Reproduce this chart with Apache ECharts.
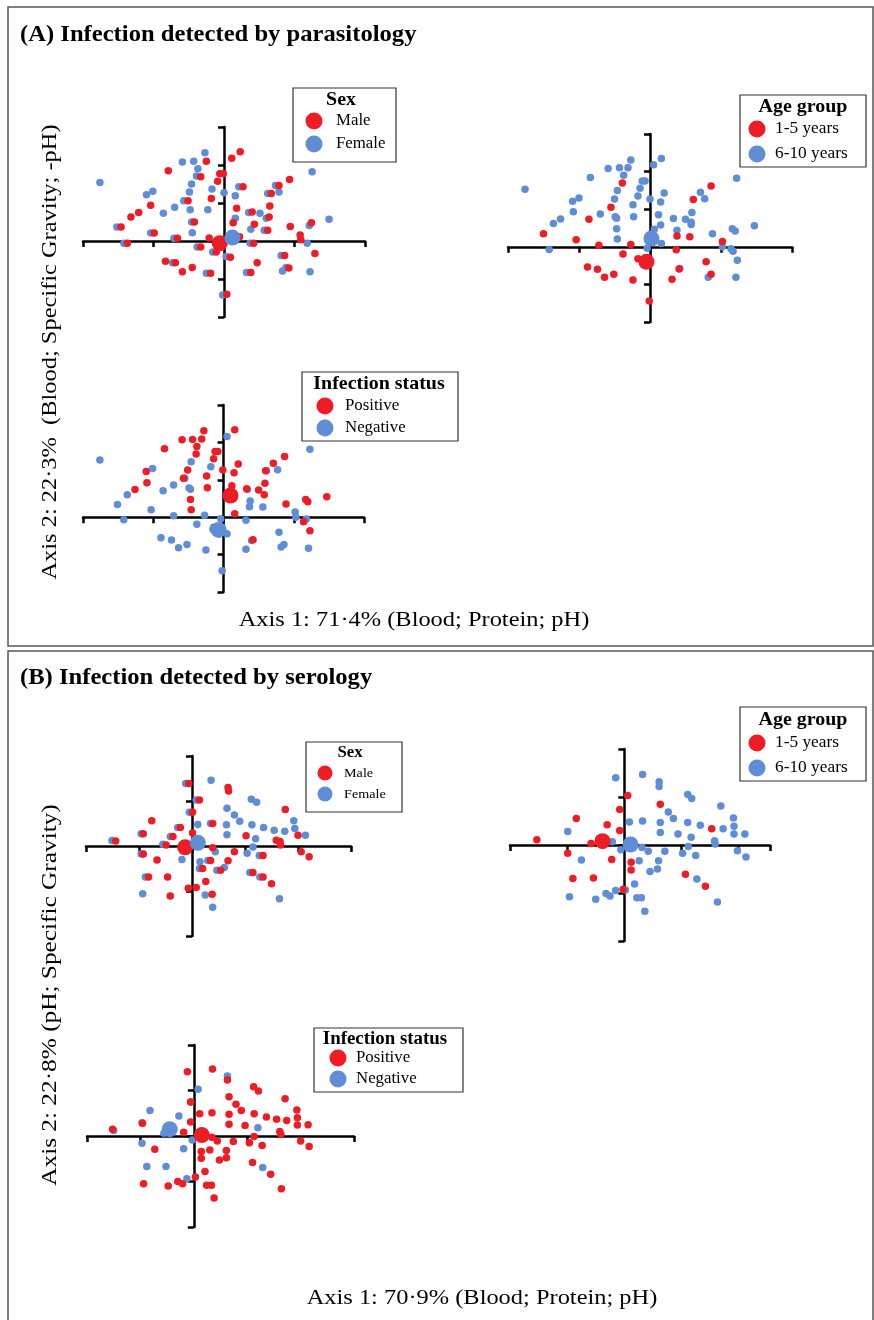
<!DOCTYPE html>
<html><head><meta charset="utf-8">
<script src="https://cdn.jsdelivr.net/npm/echarts@6/dist/echarts.min.js"></script>
<style>html,body{margin:0;padding:0;background:#fff}#c{width:874px;height:1320px}</style>
</head><body><div id="c"></div>
<script>
// ===== Data (PCA scores, axis units) =====
// (A) parasitology
const sexA_male=[[-1.46,0.37],[-1.37,-0.06],[-1.32,0.63],[-1.21,0.75],[-1.04,0.94],[-0.99,0.21],[-0.79,1.85],[-0.83,-0.53],[-0.69,-0.57],[-0.66,0.07],[-0.59,-0.81],[-0.51,1.06],[-0.45,-0.70],[-0.42,0.50],[-0.33,1.69],[-0.33,-0.16],[-0.25,2.10],[-0.19,-0.85],[-0.18,1.12],[-0.21,0.08],[-0.11,-0.29],[-0.09,1.57],[-0.06,1.77],[-0.01,1.77],[0.11,2.18],[0.23,2.35],[0.27,1.43],[0.13,0.48],[0.18,0.86],[0.09,-0.43],[0.04,-1.40],[0.22,0.11],[0.40,0.76],[0.43,0.44],[0.42,-0.06],[0.38,-0.83],[0.47,-0.57],[0.64,0.63],[0.62,0.28],[0.67,1.25],[0.65,0.92],[0.78,1.46],[0.86,-0.38],[0.92,-0.71],[0.93,1.62],[0.94,0.38],[1.08,0.16],[1.09,0.03],[1.24,0.48],[1.29,-0.33]];
const sexA_female=[[-1.76,1.54],[-1.52,0.37],[-1.42,-0.06],[-1.10,1.22],[-1.01,1.31],[-1.04,0.21],[-0.86,0.73],[-0.73,-0.57],[-0.70,0.89],[-0.71,0.07],[-0.59,2.08],[-0.57,1.06],[-0.49,1.29],[-0.48,0.82],[-0.46,1.50],[-0.46,0.50],[-0.45,0.22],[-0.43,2.10],[-0.39,1.71],[-0.37,1.90],[-0.38,-0.16],[-0.27,2.32],[-0.25,-0.85],[-0.23,0.82],[-0.17,1.37],[-0.16,-0.29],[0.00,1.27],[0.16,1.19],[0.21,1.43],[0.16,0.60],[0.03,-0.41],[-0.02,-1.42],[0.35,0.75],[0.38,0.31],[0.37,-0.06],[0.32,-0.83],[0.51,0.73],[0.60,0.60],[0.57,0.28],[0.62,1.25],[0.73,1.46],[0.78,1.29],[0.81,-0.38],[0.83,-0.79],[0.88,-0.70],[1.18,-0.06],[1.21,0.41],[1.22,-0.81],[1.25,1.82],[1.49,0.57]];
const sexA_centroid_male=[[-0.06,-0.06]];
const sexA_centroid_female=[[0.12,0.09]];

const ageA_1to5=[[-1.50,0.35],[-1.04,0.19],[-0.86,0.73],[-0.72,0.04],[-0.55,1.05],[-0.39,1.70],[-0.38,-0.19],[-0.27,0.06],[-0.17,-0.32],[-0.24,-0.88],[-0.88,-0.54],[-0.74,-0.60],[-0.64,-0.81],[-0.51,-0.73],[-0.01,-1.44],[0.31,-0.86],[0.37,-0.08],[0.38,0.29],[0.41,-0.59],[0.56,0.27],[0.61,1.26],[0.86,1.62],[0.79,-0.40],[0.86,-0.73],[1.02,0.14]];
const ageA_6to10=[[-1.76,1.53],[-1.42,-0.07],[-1.36,0.62],[-1.26,0.74],[-1.09,1.21],[-1.00,1.30],[-1.08,0.93],[-0.84,1.84],[-0.70,0.87],[-0.59,2.08],[-0.43,2.10],[-0.31,2.10],[-0.37,1.90],[-0.27,2.31],[-0.46,1.50],[-0.50,1.27],[-0.49,0.80],[-0.47,0.76],[-0.47,0.48],[-0.46,0.21],[-0.24,1.12],[-0.23,0.80],[-0.17,1.35],[-0.14,1.56],[-0.11,1.75],[-0.07,1.75],[0.00,1.27],[0.05,2.18],[0.16,2.35],[0.15,1.19],[0.20,1.43],[0.12,0.85],[0.15,0.58],[0.06,0.47],[-0.04,-0.04],[0.16,0.09],[0.33,0.75],[0.38,0.44],[0.42,-0.58],[0.50,0.73],[0.58,0.65],[0.59,0.91],[0.58,0.59],[0.71,1.45],[0.77,1.28],[0.88,0.35],[1.02,0.00],[1.14,-0.05],[1.17,-0.12],[1.16,0.48],[1.20,0.42],[1.23,-0.36],[1.21,-0.81],[0.82,-0.81],[1.22,1.82],[1.47,0.56]];
const ageA_centroid_1to5=[[-0.05,-0.40]];
const ageA_centroid_6to10=[[0.02,0.22]];

const infA_pos=[[-1.26,0.74],[-1.10,1.22],[-1.09,0.92],[-0.84,1.83],[-0.59,2.07],[-0.44,2.08],[-0.31,2.09],[-0.28,2.31],[-0.38,1.89],[-0.39,1.69],[-0.51,1.26],[-0.57,1.04],[-0.47,0.47],[-0.46,0.20],[-0.24,1.10],[-0.23,0.79],[-0.14,1.56],[-0.12,1.76],[-0.08,1.76],[-0.01,1.26],[0.15,1.19],[0.21,1.42],[0.16,2.34],[0.12,0.84],[0.16,0.09],[0.33,0.76],[0.50,0.73],[0.58,0.60],[0.59,0.91],[0.60,1.24],[0.71,1.44],[0.87,1.62],[0.89,0.35],[1.17,0.47],[1.20,0.41],[1.47,0.55],[1.14,-0.12],[1.23,-0.36],[0.42,-0.60]];
const infA_neg=[[-1.76,1.53],[-1.51,0.34],[-1.42,-0.07],[-1.37,0.60],[-1.01,1.30],[-1.03,0.20],[-0.86,0.71],[-0.71,0.86],[-0.71,0.04],[-0.89,-0.55],[-0.74,-0.61],[-0.64,-0.82],[-0.52,-0.73],[-0.49,0.78],[-0.47,0.75],[-0.46,1.48],[-0.55,1.04],[-0.38,-0.19],[-0.27,0.05],[-0.18,1.35],[-0.25,-0.88],[-0.04,-0.04],[-0.15,-0.32],[-0.02,-1.43],[0.05,2.16],[0.34,0.74],[0.38,0.43],[0.37,0.28],[0.32,-0.08],[0.32,-0.86],[0.40,-0.62],[0.56,0.27],[0.61,1.24],[0.77,1.27],[0.79,-0.40],[0.82,-0.80],[0.86,-0.73],[1.02,0.14],[1.03,0.00],[1.18,-0.05],[1.21,-0.83],[1.23,1.82],[-0.14,-0.27],[0.05,-0.44]];
const infA_centroid_pos=[[0.10,0.58]];
const infA_centroid_neg=[[-0.07,-0.34]];

// (B) serology
const sexB_male=[[-1.44,0.11],[-0.92,0.27],[-0.92,-0.18],[-0.76,0.56],[-0.82,-0.69],[-0.66,-0.31],[-0.49,0.02],[-0.46,-0.69],[-0.41,-1.11],[-0.36,0.21],[-0.22,0.41],[-0.06,1.39],[0.01,0.75],[0.01,0.29],[0.14,1.02],[-0.07,-0.94],[0.08,-0.92],[0.20,-0.50],[0.26,-0.79],[0.35,-0.32],[0.39,0.50],[0.39,-0.04],[0.38,-1.07],[0.54,-0.54],[0.68,1.30],[0.69,1.22],[0.68,-0.33],[0.80,-0.13],[1.02,0.23],[1.15,-0.59],[1.34,-0.21],[1.34,-0.69],[1.50,-0.84],[1.59,0.13],[1.66,0.10],[1.67,0.02],[1.76,0.81],[2.00,0.24],[2.06,-0.13],[2.21,-0.24]];
const sexB_female=[[-1.51,0.12],[-0.96,0.27],[-0.96,-0.18],[-0.88,-0.69],[-0.93,-1.06],[-0.55,0.04],[-0.41,0.21],[-0.27,0.41],[-0.19,-0.30],[-0.12,1.39],[-0.05,0.75],[0.08,1.02],[0.11,0.48],[0.15,-0.35],[0.14,-0.50],[0.30,-0.32],[0.35,0.50],[0.44,-0.13],[0.36,1.46],[0.25,-1.09],[0.39,-1.36],[0.47,-0.54],[0.61,-0.48],[0.66,0.84],[0.65,0.47],[0.66,0.25],[0.80,0.69],[0.90,0.55],[1.12,1.04],[1.22,0.97],[1.13,0.47],[1.20,0.16],[1.15,-0.02],[1.04,-0.16],[1.27,-0.21],[1.09,-0.59],[1.28,-0.69],[1.35,0.41],[1.55,0.35],[1.75,0.33],[1.92,0.56],[1.94,0.39],[2.14,0.24],[1.65,-1.17]];
const sexB_centroid_male=[[-0.13,-0.03]];
const sexB_centroid_female=[[0.11,0.07]];

const ageB_1to5=[[-1.53,0.11],[-0.99,-0.17],[-0.90,-0.70],[-0.84,0.55],[-0.58,0.03],[-0.54,-0.69],[-0.44,0.12],[-0.30,0.42],[-0.22,-0.30],[-0.08,0.74],[-0.08,0.30],[0.06,1.03],[0.12,-0.36],[0.12,-0.52],[-0.02,-0.92],[0.63,0.85],[1.07,-0.61],[1.42,-0.86],[1.53,0.34]];
const ageB_6to10=[[-0.99,0.28],[-0.75,-0.31],[-0.96,-1.08],[-0.50,-1.13],[-0.32,-1.01],[-0.25,-1.06],[-0.15,-0.95],[0.02,-0.94],[-0.15,1.40],[-0.21,0.07],[-0.06,-0.10],[0.09,0.48],[0.32,1.47],[0.32,0.50],[0.31,-0.05],[0.26,-0.33],[0.42,-0.13],[0.45,-0.55],[0.58,-0.50],[0.60,-0.33],[0.18,-0.81],[0.22,-1.10],[0.30,-1.10],[0.36,-1.38],[0.61,1.32],[0.61,1.22],[0.63,0.47],[0.63,0.26],[0.71,-0.13],[0.77,0.69],[0.86,0.55],[0.94,0.23],[1.02,-0.17],[1.11,0.47],[1.12,-0.03],[1.17,0.16],[1.25,-0.22],[1.11,1.05],[1.18,0.97],[1.27,-0.71],[1.33,0.41],[1.58,0.09],[1.59,0.02],[1.69,0.81],[1.73,0.34],[1.91,0.56],[1.92,0.39],[1.92,0.23],[1.98,-0.12],[2.11,0.23],[2.13,-0.25],[1.63,-1.19]];
const ageB_centroid_1to5=[[-0.38,0.08]];
const ageB_centroid_6to10=[[0.11,0.01]];

const infB_pos=[[-1.52,0.15],[-0.96,0.28],[-0.73,-0.29],[-0.94,-1.05],[-0.48,-1.10],[-0.30,-1.00],[-0.21,-1.05],[-0.19,0.08],[-0.12,1.41],[-0.06,0.75],[-0.06,0.31],[0.11,0.49],[0.14,-0.34],[0.14,-0.49],[0.30,-0.31],[0.35,1.47],[0.34,0.51],[0.34,-0.03],[0.44,-0.11],[0.63,1.23],[0.66,0.86],[0.66,0.48],[0.66,0.26],[0.79,0.70],[0.89,0.56],[0.96,0.23],[0.74,-0.12],[0.61,-0.32],[0.61,-0.48],[0.48,-0.53],[0.21,-0.78],[0.24,-1.08],[0.33,-1.08],[0.38,-1.36],[0.03,-0.90],[1.04,-0.15],[1.13,-0.01],[1.28,-0.21],[1.10,-0.58],[1.12,1.08],[1.21,0.99],[1.13,0.49],[1.36,0.42],[1.55,0.37],[1.61,0.10],[1.63,0.04],[1.71,0.82],[1.74,0.34],[1.93,0.57],[1.94,0.40],[1.94,0.24],[2.00,-0.11],[2.14,0.25],[2.16,-0.23],[1.44,-0.84],[1.64,-1.16]];
const infB_neg=[[-1.50,0.12],[-0.97,0.29],[-0.97,-0.16],[-0.88,-0.67],[-0.82,0.56],[-0.52,-0.67],[-0.28,0.44],[-0.19,-0.28],[-0.13,-0.94],[-0.03,-0.09],[0.08,1.03],[-0.06,0.75],[0.63,1.32],[1.20,0.18],[1.29,-0.69],[-0.56,0.06]];
const infB_centroid_pos=[[0.15,0.02]];
const infB_centroid_neg=[[-0.45,0.15]];

// ===== Chart =====
const RED='#ee1c25', BLUE='#5f8dd6';
const SERIF='"Liberation Serif","DejaVu Serif",serif';
const panels=[
  {g:{left:83,top:127,width:282,height:190},x:[-2,2],y:[-2,3],red:sexA_male,blue:sexA_female,cr:sexA_centroid_male,cb:sexA_centroid_female},
  {g:{left:508,top:134,width:284,height:188},x:[-2,2],y:[-2,3],red:ageA_1to5,blue:ageA_6to10,cr:ageA_centroid_1to5,cb:ageA_centroid_6to10},
  {g:{left:83,top:405,width:281,height:187},x:[-2,2],y:[-2,3],red:infA_pos,blue:infA_neg,cr:infA_centroid_pos,cb:infA_centroid_neg},
  {g:{left:86,top:756,width:265,height:180},x:[-2,3],y:[-2,2],red:sexB_male,blue:sexB_female,cr:sexB_centroid_male,cb:sexB_centroid_female},
  {g:{left:510,top:749,width:260,height:192},x:[-2,2.55],y:[-2,2],red:ageB_1to5,blue:ageB_6to10,cr:ageB_centroid_1to5,cb:ageB_centroid_6to10},
  {g:{left:87,top:1045,width:267,height:182},x:[-2,3],y:[-2,2],red:infB_pos,blue:infB_neg,cr:infB_centroid_pos,cb:infB_centroid_neg}
];
const axLine={lineStyle:{color:'#000',width:2.5},onZero:true};
const axTick={show:true,length:6,lineStyle:{color:'#000',width:2.5}};
const grid=[],xAxis=[],yAxis=[],series=[];
panels.forEach((p,i)=>{
  grid.push(p.g);
  xAxis.push({gridIndex:i,type:'value',min:p.x[0],max:p.x[1],interval:1,axisLine:axLine,axisTick:axTick,axisLabel:{show:false},splitLine:{show:false}});
  yAxis.push({gridIndex:i,type:'value',min:p.y[0],max:p.y[1],interval:1,axisLine:axLine,axisTick:axTick,axisLabel:{show:false},splitLine:{show:false}});
  const base={type:'scatter',xAxisIndex:i,yAxisIndex:i,silent:true,animation:false};
  series.push(Object.assign({},base,{data:p.blue,symbolSize:7.5,itemStyle:{color:BLUE,opacity:1},z:2}));
  series.push(Object.assign({},base,{data:p.red,symbolSize:7.5,itemStyle:{color:RED,opacity:1},z:3}));
  series.push(Object.assign({},base,{data:p.cr,symbolSize:16,itemStyle:{color:RED,opacity:1},z:4}));
  series.push(Object.assign({},base,{data:p.cb,symbolSize:16,itemStyle:{color:BLUE,opacity:1},z:5}));
});

function txt(t,x,y,size,opt){opt=opt||{};return {type:'text',x:x,y:y,rotation:opt.rot||0,scaleX:opt.sx||1,z:10,style:{text:t,fill:'#000',font:(opt.bold?'bold ':'')+size+'px '+SERIF,textAlign:opt.align||'left',textVerticalAlign:'middle',align:opt.align||'left',verticalAlign:'middle'}};}
function box(x1,y1,x2,y2,w,c){return {type:'rect',z:9,shape:{x:x1,y:y1,width:x2-x1,height:y2-y1},style:{fill:'none',stroke:c||'#444',lineWidth:w||1.2}};}
function dot(x,y,r,c){return {type:'circle',z:10,shape:{cx:x,cy:y,r:r},style:{fill:c}};}
function legend(b,title,titleX,titleY,tsize,tsx,items,mx,tx,ys,isize,isx,r){
  const out=[box(b[0],b[1],b[2],b[3],1.2,'#333'),txt(title,titleX,titleY,tsize,{bold:true,align:'center',sx:tsx})];
  items.forEach((it,k)=>{out.push(dot(mx,ys[k],r,k===0?RED:BLUE));out.push(txt(it,tx,ys[k],isize,{sx:isx}));});
  return out;
}
const graphic=[].concat(
  [box(8,7,873,646,1.5,'#555'),box(8,651,873,1321,1.5,'#555')],
  [txt('(A) Infection detected by parasitology',20,35,23,{bold:true,sx:1.07}),
   txt('(B) Infection detected by serology',20,678,23,{bold:true,sx:1.07}),
   txt('Axis 2: 22·3%  (Blood; Specific Gravity; -pH)',50,352,22,{align:'center',rot:Math.PI/2,sx:1.11}),
   txt('Axis 1: 71·4% (Blood; Protein; pH)',414,620,22,{align:'center',sx:1.11}),
   txt('Axis 2: 22·8% (pH; Specific Gravity)',50,995,22,{align:'center',rot:Math.PI/2,sx:1.15}),
   txt('Axis 1: 70·9% (Blood; Protein; pH)',482,1298,22,{align:'center',sx:1.11})],
  legend([293,88,396,162],'Sex',341,100,19,1.05,['Male','Female'],314,336,[121,144],16,1.05,8.5),
  legend([740,95,866,167],'Age group',803,107,19,1.05,['1-5 years','6-10 years'],757,775,[129,154],16.5,1.05,8.5),
  legend([302,372,458,441],'Infection status',379,384,19,1.05,['Positive','Negative'],325,345,[406,428],16,1.05,8.5),
  legend([306,742,402,812],'Sex',350,753,16,1.05,['Male','Female'],325,344,[773,794],13.5,1.05,7.5),
  legend([740,707,866,781],'Age group',803,720,19,1.05,['1-5 years','6-10 years'],757,775,[743,768],16.5,1.05,8.5),
  legend([314,1028,463,1092],'Infection status',385,1039,18,1.05,['Positive','Negative'],338,356,[1058,1079],16,1.05,8.5)
);
const chart=echarts.init(document.getElementById('c'),null,{renderer:'canvas'});
chart.setOption({animation:false,backgroundColor:'#fff',grid:grid,xAxis:xAxis,yAxis:yAxis,series:series,graphic:graphic});
</script></body></html>
